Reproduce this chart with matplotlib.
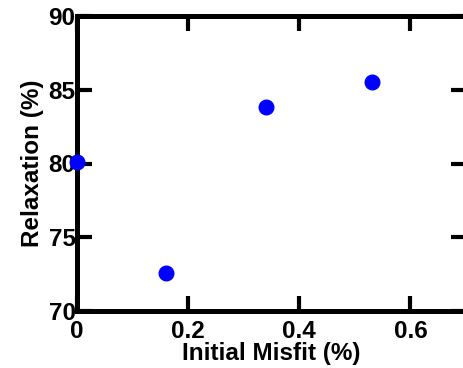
import matplotlib
matplotlib.use("Agg")
import matplotlib.pyplot as plt

# data
misfit = [0.0, 0.16, 0.34, 0.53]
relaxation = [80.1, 72.6, 83.8, 85.5]
x_ticks = [0, 0.2, 0.4, 0.6]
x_tick_labels = ["0", "0.2", "0.4", "0.6"]
y_ticks = [70, 75, 80, 85, 90]

plt.rcParams['font.family'] = ['Liberation Sans', 'DejaVu Sans']
plt.rcParams['font.weight'] = 'bold'

fig = plt.figure(figsize=(4.63, 3.68), dpi=100)
ax = fig.add_axes([77 / 463, 57 / 368, 389 / 463, 295 / 368])

ax.plot(misfit, relaxation, 'o', color='#0000ff', markersize=10.5, clip_on=False, zorder=5)

ax.set_xlim(0, 0.7)
ax.set_ylim(70, 90)
ax.set_xticks(x_ticks)
ax.set_xticklabels(x_tick_labels)
ax.set_yticks(y_ticks)

for s in ax.spines.values():
    s.set_linewidth(3.6)
ax.tick_params(direction='in', length=11, width=3, top=True, right=True,
               labelsize=17.5, pad=1)
ax.tick_params(axis='x', pad=6.5)
for lab in ax.get_xticklabels() + ax.get_yticklabels():
    lab.set_fontweight('bold')

ax.set_xlabel('Initial Misfit (%)', fontsize=17.5, fontweight='bold', labelpad=-1)
ax.set_ylabel('Relaxation (%)', fontsize=17.5, fontweight='bold', labelpad=3)

fig.savefig('out.png', dpi=100)
